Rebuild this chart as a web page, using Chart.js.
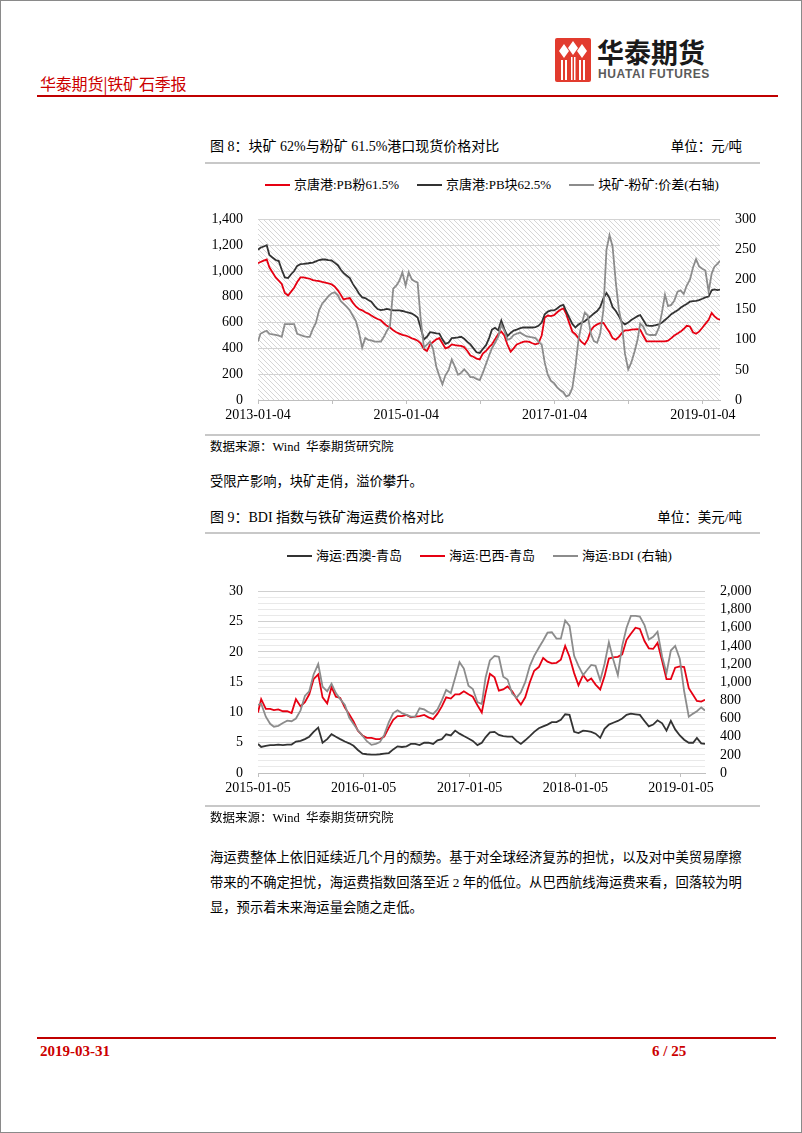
<!DOCTYPE html>
<html><head><meta charset="utf-8">
<script src="https://cdn.jsdelivr.net/npm/chart.js@4.4.1/dist/chart.umd.min.js"></script>
<style>
body{margin:0;background:#fff;}
#page{position:relative;width:802px;height:1133px;overflow:hidden;background:#fff;font-family:"Liberation Serif","Noto Sans CJK SC",serif;color:#000;}
#frame{position:absolute;left:0;top:0;width:800px;height:1131px;border:1px solid #8a8a8a;pointer-events:none;}
.a{position:absolute;white-space:nowrap;}
.hl{position:absolute;height:2px;background:#c8c8c8;}
.leg{position:absolute;display:flex;font-size:13px;line-height:14px;white-space:nowrap;}
.it{display:flex;align-items:center;margin-right:18px;}
.it i{display:inline-block;width:25px;height:2px;margin-right:4px;}
</style></head>
<body><div id="page">
<div id="frame"></div>
<svg class="a" style="left:555px;top:38px" width="36" height="44" viewBox="0 0 36 44">
<rect x="0" y="0" width="36" height="44" rx="2" fill="#e23b2e"/>
<path d="M9 6 L14 13 L9 20 L4 13 Z M18 3 L23 10 L18 17 L13 10 Z M27 6 L32 13 L27 20 L22 13 Z" fill="#fff"/>
<path d="M6 22 h2 v20 h-2 Z M10 22 h2 v20 h-2 Z M16 19 h1.5 v23 h-1.5 Z M19 19 h1.5 v23 h-1.5 Z M24 22 h2 v20 h-2 Z M28 22 h2 v20 h-2 Z" fill="#fff"/>
</svg>
<div class="a" style="left:597px;top:37px;font-family:'Noto Sans CJK SC';font-weight:bold;font-size:27px;line-height:30px;color:#1a1a1a;">华泰期货</div>
<div class="a" style="left:598px;top:68px;font-family:'Liberation Sans';font-weight:bold;font-size:12px;line-height:13px;letter-spacing:0.6px;color:#5a5a5a;">HUATAI FUTURES</div>
<div class="a" style="left:40px;top:74px;font-family:'Noto Sans CJK SC';font-size:16px;line-height:18px;letter-spacing:-0.2px;color:#cc0000;">华泰期货|铁矿石季报</div>
<div class="a" style="left:37px;top:95px;width:741px;height:2px;background:#c00000;"></div>

<div class="a" style="left:210px;top:139px;font-size:14px;line-height:16px;">图 8：块矿 62%与粉矿 61.5%港口现货价格对比</div>
<div class="a" style="right:60px;top:139px;font-size:13.5px;line-height:16px;">单位：元/吨</div>
<div class="hl" style="left:205px;top:162px;width:555px;"></div>
<div class="leg" style="left:265px;top:178px;">
<span class="it"><i style="background:#e60012"></i>京唐港:PB粉61.5%</span>
<span class="it"><i style="background:#333333"></i>京唐港:PB块62.5%</span>
<span class="it"><i style="background:#8c8c8c"></i>块矿-粉矿:价差(右轴)</span>
</div>
<canvas id="c1" class="a" style="left:200px;top:196px" width="560" height="239"></canvas>
<div class="hl" style="left:205px;top:434px;width:555px;"></div>
<div class="a" style="left:210px;top:440px;font-size:12.5px;line-height:15px;">数据来源：Wind&nbsp; 华泰期货研究院</div>
<div class="a" style="left:210px;top:474px;font-size:13.3px;line-height:16px;">受限产影响，块矿走俏，溢价攀升。</div>

<div class="a" style="left:210px;top:510px;font-size:14px;line-height:16px;">图 9：BDI 指数与铁矿海运费价格对比</div>
<div class="a" style="right:60px;top:510px;font-size:13.5px;line-height:16px;">单位：美元/吨</div>
<div class="hl" style="left:205px;top:532px;width:555px;"></div>
<div class="leg" style="left:287px;top:549px;">
<span class="it"><i style="background:#333333"></i>海运:西澳-青岛</span>
<span class="it"><i style="background:#e60012"></i>海运:巴西-青岛</span>
<span class="it"><i style="background:#8c8c8c"></i>海运:BDI (右轴)</span>
</div>
<canvas id="c2" class="a" style="left:200px;top:568px" width="560" height="238"></canvas>
<div class="hl" style="left:205px;top:805px;width:555px;"></div>
<div class="a" style="left:210px;top:811px;font-size:12.5px;line-height:15px;">数据来源：Wind&nbsp; 华泰期货研究院</div>
<div class="a" style="left:210px;top:845px;font-size:13.3px;line-height:25px;">海运费整体上依旧延续近几个月的颓势。基于对全球经济复苏的担忧，以及对中美贸易摩擦<br>带来的不确定担忧，海运费指数回落至近 2 年的低位。从巴西航线海运费来看，回落较为明<br>显，预示着未来海运量会随之走低。</div>

<div class="a" style="left:37px;top:1037px;width:739px;height:2px;background:#c00000;"></div>
<div class="a" style="left:40px;top:1043px;font-weight:bold;font-size:15px;line-height:17px;color:#cc0000;">2019-03-31</div>
<div class="a" style="left:652px;top:1043px;font-weight:bold;font-size:15px;line-height:17px;color:#cc0000;">6 / 25</div>
</div>
<script>
// ---------- Chart 1 data (half-monthly readings) ----------
const dates1 = [
'2013-01-04','2013-01-16','2013-02-01','2013-02-16','2013-03-01','2013-03-16','2013-04-01','2013-04-16','2013-05-01','2013-05-16','2013-06-01','2013-06-16','2013-07-01','2013-07-16','2013-08-01','2013-08-16','2013-09-01','2013-09-16','2013-10-01','2013-10-16','2013-11-01','2013-11-16','2013-12-01','2013-12-16',
'2014-01-01','2014-01-16','2014-02-01','2014-02-16','2014-03-01','2014-03-16','2014-04-01','2014-04-16','2014-05-01','2014-05-16','2014-06-01','2014-06-16','2014-07-01','2014-07-16','2014-08-01','2014-08-16','2014-09-01','2014-09-16','2014-10-01','2014-10-16','2014-11-01','2014-11-16','2014-12-01','2014-12-16',
'2015-01-01','2015-01-16','2015-02-01','2015-02-16','2015-03-01','2015-03-16','2015-04-01','2015-04-16','2015-05-01','2015-05-16','2015-06-01','2015-06-16','2015-07-01','2015-07-16','2015-08-01','2015-08-16','2015-09-01','2015-09-16','2015-10-01','2015-10-16','2015-11-01','2015-11-16','2015-12-01','2015-12-16',
'2016-01-01','2016-01-16','2016-02-01','2016-02-16','2016-03-01','2016-03-16','2016-04-01','2016-04-16','2016-05-01','2016-05-16','2016-06-01','2016-06-16','2016-07-01','2016-07-16','2016-08-01','2016-08-16','2016-09-01','2016-09-16','2016-10-01','2016-10-16','2016-11-01','2016-11-16','2016-12-01','2016-12-16',
'2017-01-01','2017-01-16','2017-02-01','2017-02-16','2017-03-01','2017-03-16','2017-04-01','2017-04-16','2017-05-01','2017-05-16','2017-06-01','2017-06-16','2017-07-01','2017-07-16','2017-08-01','2017-08-16','2017-09-01','2017-09-16','2017-10-01','2017-10-16','2017-11-01','2017-11-16','2017-12-01','2017-12-16',
'2018-01-01','2018-01-16','2018-02-01','2018-02-16','2018-03-01','2018-03-16','2018-04-01','2018-04-16','2018-05-01','2018-05-16','2018-06-01','2018-06-16','2018-07-01','2018-07-16','2018-08-01','2018-08-16','2018-09-01','2018-09-16','2018-10-01','2018-10-16','2018-11-01','2018-11-16','2018-12-01','2018-12-16',
'2019-01-01','2019-01-16','2019-02-01','2019-02-16','2019-03-01','2019-03-16','2019-03-29'];
const pbFines = [
1060,1070,1080,1089,1029,990,950,925,900,830,810,840,870,915,950,950,945,940,930,925,921,915,910,905,
897,880,850,815,780,785,790,755,725,705,695,680,670,655,640,628,618,595,575,562,540,525,515,505,
500,490,478,470,460,440,395,380,430,450,470,479,440,400,410,431,425,422,419,410,380,345,335,320,
315,360,380,410,430,470,510,530,500,430,375,400,430,440,450,455,450,440,432,440,500,640,655,650,
658,680,700,710,670,600,530,510,480,450,431,470,540,570,586,595,598,560,525,480,467,490,520,540,
540,545,548,550,545,500,455,455,455,455,455,455,455,460,480,500,515,530,550,575,570,525,514,530,
560,590,622,675,650,630,622];
const pbLump = [
1165,1180,1190,1200,1125,1105,1085,1077,1010,950,945,975,1000,1040,1053,1055,1058,1062,1065,1075,1085,1089,1089,1085,
1082,1065,1045,1010,985,965,945,900,865,825,795,790,775,762,730,705,697,700,706,700,695,694,694,690,
683,677,670,655,640,560,470,490,526,522,516,514,470,435,445,479,482,485,490,475,450,431,400,370,
365,395,425,480,545,560,540,615,550,495,520,538,545,555,562,562,562,562,565,575,600,665,685,694,
694,710,730,737,690,640,590,562,585,598,610,630,650,670,690,720,790,830,790,720,690,650,605,586,
600,620,635,650,658,620,578,575,575,580,586,600,620,640,665,680,695,715,730,745,762,766,768,775,
785,795,802,850,857,852,855];
const lumpSpread = [
97,110,113,115,110,109,108,107,105,126,126,126,126,110,108,106,105,105,118,128,149,160,166,172,
177,179,174,164,160,155,149,140,131,113,87,103,100,99,97,97,97,105,115,123,185,190,198,212,
190,212,200,197,195,135,87,92,97,85,55,40,26,41,50,67,55,42,45,51,45,38,38,35,
33,45,60,74,86,95,105,125,115,100,102,108,110,112,109,106,105,104,103,97,92,62,42,32,
28,21,16,13,6,8,20,55,100,125,145,140,110,98,95,110,150,250,274,255,195,150,125,77,
51,62,80,100,127,122,110,108,108,108,120,145,175,156,158,165,180,182,176,190,200,220,234,222,
218,215,180,210,221,226,231];
const xTicks1 = ['2013-01-04','2014-01-04','2015-01-04','2016-01-04','2017-01-04','2018-01-04','2019-01-04'];
const xLabels1 = ['2013-01-04','2015-01-04','2017-01-04','2019-01-04'];
const yTicks1 = [0,200,400,600,800,1000,1200,1400];
const y1Ticks1 = [0,50,100,150,200,250,300];

// ---------- Chart 2 data (half-monthly readings) ----------
const dates2 = [
'2015-01-05','2015-01-16','2015-02-01','2015-02-16','2015-03-01','2015-03-16','2015-04-01','2015-04-16','2015-05-01','2015-05-16','2015-06-01','2015-06-16','2015-07-01','2015-07-16','2015-08-01','2015-08-16','2015-09-01','2015-09-16','2015-10-01','2015-10-16','2015-11-01','2015-11-16','2015-12-01','2015-12-16',
'2016-01-01','2016-01-16','2016-02-01','2016-02-16','2016-03-01','2016-03-16','2016-04-01','2016-04-16','2016-05-01','2016-05-16','2016-06-01','2016-06-16','2016-07-01','2016-07-16','2016-08-01','2016-08-16','2016-09-01','2016-09-16','2016-10-01','2016-10-16','2016-11-01','2016-11-16','2016-12-01','2016-12-16',
'2017-01-01','2017-01-16','2017-02-01','2017-02-16','2017-03-01','2017-03-16','2017-04-01','2017-04-16','2017-05-01','2017-05-16','2017-06-01','2017-06-16','2017-07-01','2017-07-16','2017-08-01','2017-08-16','2017-09-01','2017-09-16','2017-10-01','2017-10-16','2017-11-01','2017-11-16','2017-12-01','2017-12-16',
'2018-01-01','2018-01-16','2018-02-01','2018-02-16','2018-03-01','2018-03-16','2018-04-01','2018-04-16','2018-05-01','2018-05-16','2018-06-01','2018-06-16','2018-07-01','2018-07-16','2018-08-01','2018-08-16','2018-09-01','2018-09-16','2018-10-01','2018-10-16','2018-11-01','2018-11-16','2018-12-01','2018-12-16',
'2019-01-01','2019-01-16','2019-02-01','2019-02-16','2019-03-01','2019-03-16','2019-03-29'];
const westAus = [
4.8,4.3,4.5,4.6,4.6,4.7,4.6,4.7,4.7,5.2,5.3,5.6,6.0,6.8,7.5,5.0,5.6,6.4,6.0,5.6,5.2,4.9,4.5,3.8,
3.2,3.1,3.05,3.05,3.1,3.2,3.3,3.9,4.4,4.3,4.4,4.8,4.8,4.6,5.0,5.0,4.8,5.4,5.6,6.4,6.2,7.0,6.5,6.1,
5.7,5.3,4.6,5.0,5.9,6.7,6.8,6.3,6.1,6.0,6.0,5.3,4.8,5.4,6.1,6.8,7.4,7.7,8.0,8.4,8.4,8.8,9.7,9.6,
6.8,6.6,7.0,6.9,6.8,6.5,5.8,7.3,8.0,8.3,8.6,9.0,9.6,9.8,9.7,9.6,8.6,7.7,8.0,8.7,8.2,7.0,8.6,7.2,
6.2,5.5,5.0,5.0,5.8,4.9,4.8];
const brazil = [
10.0,12.2,10.6,10.6,10.4,10.5,10.2,10.2,9.9,12.2,11.0,11.7,13.0,15.5,16.3,12.5,11.5,14.2,12.6,12.4,10.8,9.7,8.5,7.0,
6.2,5.8,5.8,5.6,5.6,6.0,7.5,8.8,9.4,9.4,9.6,9.2,9.3,9.4,9.6,9.2,8.9,9.8,11.0,12.5,12.3,13.0,13.0,13.5,
13.0,12.6,11.2,10.0,13.2,16.4,15.8,13.6,13.8,14.3,13.5,12.3,11.3,12.5,15.0,16.9,17.5,19.0,18.4,18.1,18.2,18.7,21.0,19.2,
16.5,14.5,16.2,15.2,15.6,14.6,13.8,16.0,18.9,19.1,19.2,19.6,22.0,23.0,24.0,23.8,21.8,20.6,20.5,21.5,18.5,15.5,15.5,17.4,
17.6,17.5,14.0,12.9,11.9,11.8,12.1];
const bdi = [
750,763,620,542,510,520,550,576,570,600,690,848,900,1085,1200,950,900,983,880,814,750,610,540,470,
410,350,310,320,340,420,560,660,690,660,640,620,620,712,700,670,650,700,800,915,880,1050,1220,1150,
960,925,780,760,1050,1240,1290,1281,1060,1030,875,830,890,1000,1180,1290,1380,1460,1545,1550,1480,1480,1680,1620,
1290,1180,1078,1140,1190,1180,1020,1200,1440,1250,1078,1400,1600,1730,1730,1722,1630,1470,1500,1555,1280,1100,1349,1400,
1255,900,620,654,680,722,688];
const xTicks2 = ['2015-01-05','2016-01-05','2017-01-05','2018-01-05','2019-01-05'];
const yTicks2 = [0,5,10,15,20,25,30];
const y1Ticks2 = [0,200,400,600,800,1000,1200,1400,1600,1800,2000];

// ---------- helpers ----------
const T = s => Date.parse(s + 'T00:00:00Z');
const FONT = '"Liberation Serif","Noto Sans CJK SC",serif';
Chart.defaults.font.family = FONT;
Chart.defaults.font.size = 14;
Chart.defaults.color = '#000';
const pts = (dates, vals) => dates.map((d, i) => ({x: T(d), y: vals[i]}));
const fmt = v => Number(v).toLocaleString('en-US');
const RED = '#e60012', BLACK = '#333333', GRAY = '#8c8c8c';

const hatch = {
  id: 'hatch',
  beforeDraw(chart) {
    const {ctx, chartArea: a} = chart;
    if (!chart.$pat) {
      const c = document.createElement('canvas'); c.width = c.height = 5;
      const g = c.getContext('2d');
      g.strokeStyle = '#d6d6d6'; g.lineWidth = 1;
      g.beginPath(); g.moveTo(0, 0); g.lineTo(5, 5); g.moveTo(-1, 4); g.lineTo(1, 6); g.moveTo(4, -1); g.lineTo(6, 1); g.stroke();
      chart.$pat = ctx.createPattern(c, 'repeat');
    }
    ctx.save(); ctx.fillStyle = chart.$pat;
    ctx.fillRect(a.left, a.top, a.right - a.left, a.bottom - a.top);
    ctx.restore();
  }
};

const common = {
  responsive: false, animation: false, events: [],
  plugins: {legend: {display: false}, tooltip: {enabled: false}},
  elements: {point: {radius: 0}, line: {borderWidth: 1.8, tension: 0}},
  layout: {padding: {top: 10, left: 0, right: 0, bottom: 0}}
};

new Chart(document.getElementById('c1'), {
  type: 'line',
  data: {datasets: [
    {label: '京唐港:PB粉61.5%', data: pts(dates1, pbFines), borderColor: RED, yAxisID: 'y', order: 2},
    {label: '京唐港:PB块62.5%', data: pts(dates1, pbLump), borderColor: BLACK, yAxisID: 'y', order: 1},
    {label: '块矿-粉矿:价差(右轴)', data: pts(dates1, lumpSpread), borderColor: GRAY, yAxisID: 'y1', order: 0}
  ]},
  options: Object.assign({}, common, {
    scales: {
      x: {type: 'linear', min: T(dates1[0]), max: T(dates1[dates1.length - 1]),
        afterBuildTicks: ax => { ax.ticks = xTicks1.map(d => ({value: T(d)})); },
        afterFit: s => { s.height = 35; },
        ticks: {autoSkip: false, maxRotation: 0, padding: 3,
          callback: v => { const d = new Date(v).toISOString().slice(0, 10); return xLabels1.includes(d) ? d : ''; }},
        grid: {drawOnChartArea: false, drawTicks: true, tickLength: 4, color: '#bfbfbf'},
        border: {display: true, color: '#bfbfbf'}},
      y: {position: 'left', min: 0, max: 1400,
        afterBuildTicks: ax => { ax.ticks = yTicks1.map(v => ({value: v})); },
        afterFit: s => { s.width = 58; },
        ticks: {autoSkip: false, padding: 15, callback: v => fmt(v)},
        grid: {color: '#d3d3d3', drawTicks: false}, border: {display: false}},
      y1: {position: 'right', min: 0, max: 300,
        afterBuildTicks: ax => { ax.ticks = y1Ticks1.map(v => ({value: v})); },
        afterFit: s => { s.width = 40; },
        ticks: {autoSkip: false, padding: 7, callback: v => fmt(v)},
        grid: {display: false}, border: {display: false}}
    }
  }),
  plugins: [hatch]
});

new Chart(document.getElementById('c2'), {
  type: 'line',
  data: {datasets: [
    {label: '海运:西澳-青岛', data: pts(dates2, westAus), borderColor: BLACK, yAxisID: 'y', order: 2},
    {label: '海运:巴西-青岛', data: pts(dates2, brazil), borderColor: RED, yAxisID: 'y', order: 1},
    {label: '海运:BDI (右轴)', data: pts(dates2, bdi), borderColor: GRAY, yAxisID: 'y1', order: 0}
  ]},
  options: Object.assign({}, common, {
    scales: {
      x: {type: 'linear', min: T(dates2[0]), max: T(dates2[dates2.length - 1]),
        afterBuildTicks: ax => { ax.ticks = xTicks2.map(d => ({value: T(d)})); },
        afterFit: s => { s.height = 33; },
        ticks: {autoSkip: false, maxRotation: 0, padding: 3,
          callback: v => new Date(v).toISOString().slice(0, 10)},
        grid: {drawOnChartArea: false, drawTicks: true, tickLength: 4, color: '#bfbfbf'},
        border: {display: true, color: '#bfbfbf'}},
      y: {position: 'left', min: 0, max: 30,
        afterBuildTicks: ax => { const t = []; for (let v = 0; v <= 30; v++) t.push({value: v}); ax.ticks = t; },
        afterFit: s => { s.width = 58; },
        ticks: {autoSkip: false, padding: 15, callback: v => yTicks2.includes(v) ? fmt(v) : ''},
        grid: {drawTicks: false, color: c => (c.tick && yTicks2.includes(c.tick.value)) ? '#d0d0d0' : '#e9e9e9'},
        border: {display: false}},
      y1: {position: 'right', min: 0, max: 2000,
        afterBuildTicks: ax => { ax.ticks = y1Ticks2.map(v => ({value: v})); },
        afterFit: s => { s.width = 55; },
        ticks: {autoSkip: false, padding: 7, callback: v => fmt(v)},
        grid: {display: false}, border: {display: false}}
    }
  })
});
</script>
</body></html>
